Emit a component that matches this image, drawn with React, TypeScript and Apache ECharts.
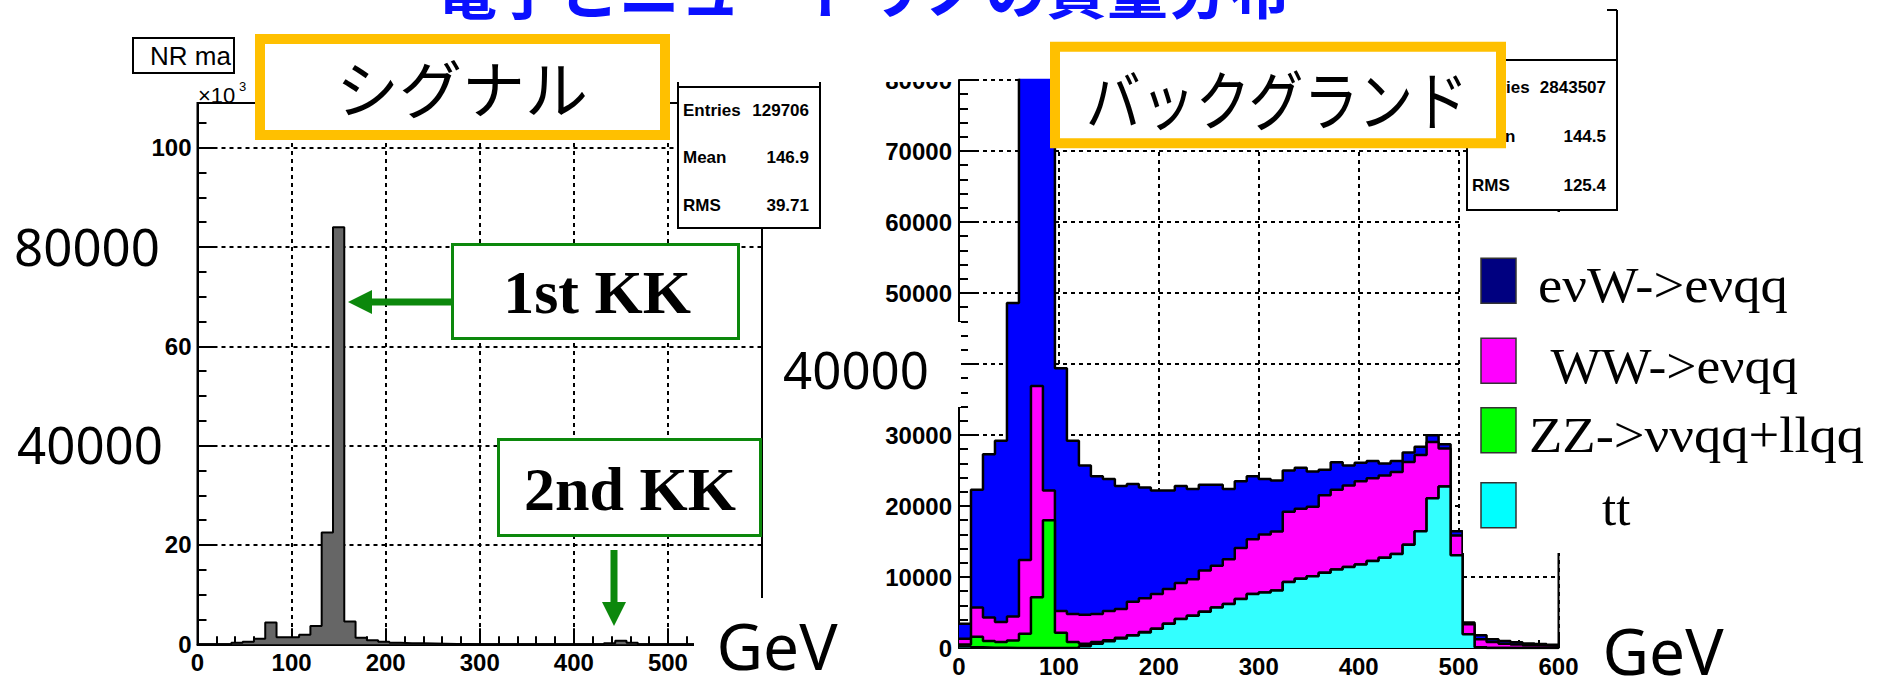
import React, { useEffect, useRef } from 'react';
import * as echarts from 'echarts';

// ---------- data ----------
const BIN_WIDTH = 12; // GeV per bin
const X_MIN = 0;
const X_MAX = 600;

// Signal "NR mass" histogram, entries per 12 GeV bin (x10^3)
const signalCounts = [
  0, 0, 0, 0.3, 0.5, 1.1, 4.4, 1.4, 1.4, 1.9,
  3.7, 22.5, 84, 4.6, 1.3, 0.8, 0.5, 0.3, 0.2, 0.2,
  0.15, 0.1, 0.05, 0.05, 0, 0, 0, 0, 0, 0,
  0, 0, 0, 0, 0, 0, 0.2, 0.7, 0.3, 0,
  0, 0, 0, 0, 0, 0, 0, 0, 0, 0,
];

// Background processes, entries per 12 GeV bin
const ttCounts = [
  200, 100, 50, 30, 0, 0, 0, 0, 0, 30,
  250, 600, 950, 1350, 1750, 2200, 2700, 3400, 4100, 4550,
  5100, 5700, 6200, 6900, 7600, 7800, 8100, 9300, 9750, 10100,
  10600, 11050, 11400, 11750, 12250, 12700, 13250, 14550, 16450, 21100,
  22750, 13050, 1950, 100, 0, 0, 0, 0, 0, 0,
];
const zzCounts = [
  300, 1500, 950, 820, 1050, 2000, 7150, 18000, 2150, 820,
  350, 250, 150, 100, 50, 50, 0, 0, 0, 0,
  0, 0, 0, 0, 0, 0, 0, 0, 0, 0,
  0, 0, 0, 0, 0, 0, 0, 0, 0, 0,
  0, 0, 0, 0, 0, 0, 0, 0, 0, 0,
];
const wwCounts = [
  800, 4100, 3300, 2800, 3400, 10400, 29750, 4200, 3050, 3950,
  4100, 3950, 4100, 4050, 4700, 4750, 4900, 4900, 5050, 5150,
  5800, 5900, 6300, 7200, 7700, 8200, 8300, 9900, 9850, 9800,
  10900, 11250, 11500, 11750, 11650, 11600, 11550, 11650, 10750, 7900,
  5350, 2800, 1400, 1150, 850, 600, 500, 400, 350, 300,
];
const evwCounts = [
  2100, 16600, 23000, 25550, 44150, 75600, 58100, 67800, 34200, 24400,
  21000, 19400, 18600, 17300, 16600, 15600, 14600, 13900, 13650, 12700,
  12100, 11400, 9900, 9400, 8900, 7800, 7200, 5800, 5800, 4950,
  3600, 3850, 2800, 2600, 2450, 1700, 1550, 1350, 1150, 950,
  600, 600, 250, 550, 400, 400, 300, 250, 200, 150,
];

const legendNames = ['eνW->eνqq', ' WW->eνqq', 'ZZ->ννqq+llqq', 'tt'];
const legendColors = ['#000080', '#ff00ff', '#00ff00', '#00ffff'];

const leftStats = [['Entries', '129706'], ['Mean', '146.9'], ['RMS', '39.71']];
const rightStats = [['Entries', '2843507'], ['Mean', '144.5'], ['RMS', '125.4']];

const leftHiddenYLabels = [40, 80];
const rightHiddenYLabels = [40000];

// ---------- helpers ----------
const steps = (vals: number[]) => [
  ...vals.map((v, i) => [X_MIN + i * BIN_WIDTH, v]),
  [X_MAX, vals[vals.length - 1]],
];
const addArr = (a: number[], b: number[]) => a.map((v, i) => v + b[i]);

const SANS = "'Liberation Sans', Arial, sans-serif";
const SERIF = "'Liberation Serif', 'Times New Roman', serif";
const BIGSANS = "'Noto Sans', 'DejaVu Sans', sans-serif";
const JP = "'Noto Sans CJK JP', sans-serif";
const ORANGE = '#ffc000';
const GREEN = '#0c880c';

const txt = (text: string, x: number, y: number, o: any) => ({
  type: 'text',
  x,
  y,
  z: o.z ?? 60,
  scaleY: o.scaleY ?? 1,
  scaleX: o.scaleX ?? 1,
  silent: true,
  style: {
    text,
    fontSize: o.size,
    fontFamily: o.family,
    fontWeight: o.weight || 'normal',
    fill: o.color || '#000',
    align: o.align || 'center',
    textAlign: o.align || 'center',
    verticalAlign: 'middle',
    textVerticalAlign: 'middle',
  },
});
const rect = (x: number, y: number, w: number, h: number, o: any) => ({
  type: 'rect',
  z: o.z ?? 50,
  silent: true,
  shape: { x, y, width: w, height: h },
  style: { fill: o.fill ?? '#fff', stroke: o.stroke ?? null, lineWidth: o.lw ?? 0 },
});
const line = (x1: number, y1: number, x2: number, y2: number, o: any = {}) => ({
  type: 'line',
  z: o.z ?? 55,
  silent: true,
  shape: { x1, y1, x2, y2 },
  style: { stroke: o.color || '#000', lineWidth: o.lw ?? 2 },
});

const axisCommon = (tickLen: number, minorLen: number, minorSplit: number) => ({
  axisLine: { show: true, onZero: false, lineStyle: { color: '#000', width: 2 } },
  axisTick: { show: true, inside: true, length: tickLen, lineStyle: { color: '#000', width: 2 } },
  minorTick: { show: true, splitNumber: minorSplit, length: minorLen, lineStyle: { color: '#000', width: 2 } },
  splitLine: { show: true, lineStyle: { color: '#000', width: 2, type: [4, 4] } },
  axisLabel: { fontSize: 24, fontFamily: SANS, fontWeight: 'bold', color: '#000', margin: 6 },
});

export default function App() {
  const ref = useRef<HTMLDivElement>(null);
  useEffect(() => {
    const chart = echarts.init(ref.current!, null, { renderer: 'svg' });

    const lx = axisCommon(16, 8, 5);
    const ly = axisCommon(18, 9, 4);
    const rx = axisCommon(16, 8, 5);
    const ry = axisCommon(20, 9, 5);

    // THStack style: each layer drawn as cumulative sum, total first
    const cumTT = ttCounts;
    const cumZZ = addArr(cumTT, zzCounts);
    const cumWW = addArr(cumZZ, wwCounts);
    const cumAll = addArr(cumWW, evwCounts);

    const bgSeries = [
      { name: 'evW', data: cumAll, color: '#0000ff', z: 3 },
      { name: 'WW', data: cumWW, color: '#ff00ff', z: 4 },
      { name: 'ZZ', data: cumZZ, color: '#00ff00', z: 5 },
      { name: 'tt', data: cumTT, color: '#33ffff', z: 6 },
    ].map((s) => ({
      type: 'line',
      name: s.name,
      xAxisIndex: 1,
      yAxisIndex: 1,
      step: 'end',
      symbol: 'none',
      silent: true,
      clip: true,
      z: s.z,
      data: steps(s.data),
      lineStyle: { color: '#000', width: 2.5 },
      areaStyle: { color: s.color, opacity: 1 },
    }));

    const graphics: any[] = [
      // slide title (cut at top)
      txt('電子とニュートリノの質量分布', 436, -13, { size: 61, family: JP, weight: 'bold', color: '#0a10ff', align: 'left' }),

      // left title box remnant
      rect(133, 38, 101, 35, { stroke: '#000', lw: 2 }),
      txt('NR ma', 150, 56, { size: 26, family: SANS, align: 'left' }),
      txt('×10', 198, 95, { size: 22, family: SANS, align: 'left' }),
      txt('3', 239, 86, { size: 13, family: SANS, align: 'left' }),

      // left stat box
      line(678, 82, 678, 87),
      line(820, 82, 820, 87),
      rect(678, 87, 142, 141, { stroke: '#000', lw: 2 }),
      ...leftStats.flatMap(([k, v], i) => [
        txt(k, 683, 110 + i * 47.5, { size: 17, family: SANS, weight: 'bold', align: 'left' }),
        txt(v, 809, 110 + i * 47.5, { size: 17, family: SANS, weight: 'bold', align: 'right' }),
      ]),

      // right stat box
      line(1617, 10, 1617, 60),
      line(1607, 10, 1617, 10),
      line(1607, 60, 1617, 60),
      rect(1467, 60, 150, 150, { stroke: '#000', lw: 2 }),
      ...rightStats.flatMap(([k, v], i) => [
        txt(k, 1472, 87 + i * 49, { size: 17, family: SANS, weight: 'bold', align: 'left' }),
        txt(v, 1606, 87 + i * 49, { size: 17, family: SANS, weight: 'bold', align: 'right' }),
      ]),

      // orange boxes
      rect(260, 39, 405, 96, { stroke: ORANGE, lw: 10, z: 70 }),
      txt('シグナル', 462, 85, { size: 63, family: JP, z: 75 }),
      rect(1055, 46.7, 446, 96.6, { stroke: ORANGE, lw: 10, z: 70 }),
      txt('バックグランド', 1277, 96, { size: 55, family: JP, z: 75, scaleY: 1.18 }),

      // green annotation boxes + arrows
      rect(452.5, 244.5, 286, 94, { stroke: GREEN, lw: 3 }),
      txt('1st KK', 597, 292, { size: 62, family: SERIF, weight: 'bold' }),
      rect(498.5, 439.5, 262, 96, { stroke: GREEN, lw: 3 }),
      txt('2nd KK', 630, 489, { size: 62, family: SERIF, weight: 'bold' }),
      rect(368, 298.5, 84, 7, { fill: GREEN }),
      { type: 'polygon', z: 56, silent: true, shape: { points: [[348, 302], [372, 290], [372, 314]] }, style: { fill: GREEN } },
      rect(610.5, 550, 7, 54, { fill: GREEN }),
      { type: 'polygon', z: 56, silent: true, shape: { points: [[614, 626], [602, 602], [626, 602]] }, style: { fill: GREEN } },

      // big overlaid axis numbers
      txt('80000', 87, 246, { size: 51, family: BIGSANS }),
      txt('40000', 90, 444, { size: 51, family: BIGSANS }),
      // right y-label cut and top cut
      rect(838, 56, 46, 600, { z: 45 }),
      rect(866, 20, 92, 62, { z: 45 }),
      rect(775, 322, 186, 85, { z: 50 }),
      txt('40000', 856, 369, { size: 51, family: BIGSANS }),

      // GeV labels
      rect(694, 598, 160, 80, { z: 50 }),
      txt('GeV', 777, 645, { size: 64, family: BIGSANS }),
      txt('GeV', 1663, 650, { size: 64, family: BIGSANS }),

      // right frame line and legend panel
      line(1558.5, 80, 1558.5, 648, { z: 20 }),
      rect(1463, 212, 415, 341, { z: 45 }),
      ...legendNames.flatMap((n, i) => {
        const sq = [258.3, 338.3, 407.7, 482.7][i];
        const ty = [285, 365, 435, 508][i];
        const tx = [1538, 1538, 1529, 1602][i];
        const sx = [1.07, 1.05, 1.07, 1.0][i];
        return [
          rect(1481, sq, 35, 45, { fill: legendColors[i], stroke: '#333', lw: 1.5, z: 50 }),
          txt(n, tx, ty, { size: 51, family: SERIF, align: 'left', scaleX: sx }),
        ];
      }),
    ];

    chart.setOption({
      animation: false,
      backgroundColor: '#fff',
      grid: [
        { left: 197.5, top: 103, width: 564.5, height: 541.3, show: true, borderColor: '#000', borderWidth: 2, backgroundColor: 'rgba(0,0,0,0)' },
        { left: 959, top: 80, width: 599.5, height: 568, show: false },
      ],
      xAxis: [
        { gridIndex: 0, type: 'value', min: X_MIN, max: X_MAX, interval: 100, ...lx },
        { gridIndex: 1, type: 'value', min: X_MIN, max: X_MAX, interval: 100, ...rx },
      ],
      yAxis: [
        {
          gridIndex: 0, type: 'value', min: 0, max: 109, interval: 20, ...ly,
          axisLabel: {
            ...ly.axisLabel,
            formatter: (v: number) => (v % 20 !== 0 || leftHiddenYLabels.includes(v) ? '' : String(v)),
          },
        },
        {
          gridIndex: 1, type: 'value', min: 0, max: 80000, interval: 10000, ...ry,
          axisLabel: {
            ...ry.axisLabel,
            margin: 7,
            formatter: (v: number) => (rightHiddenYLabels.includes(v) ? '' : String(v)),
          },
        },
      ],
      series: [
        {
          type: 'line',
          name: 'signal',
          xAxisIndex: 0,
          yAxisIndex: 0,
          step: 'end',
          symbol: 'none',
          silent: true,
          z: 3,
          data: steps(signalCounts),
          lineStyle: { color: '#000', width: 2 },
          areaStyle: { color: '#666666', opacity: 1 },
        },
        ...bgSeries,
      ],
      graphic: { elements: graphics },
    });
    return () => chart.dispose();
  }, []);
  return (
    <div
      ref={ref}
      style={{ position: 'fixed', left: 0, top: 0, width: 1878, height: 678, background: '#fff' }}
    />
  );
}
